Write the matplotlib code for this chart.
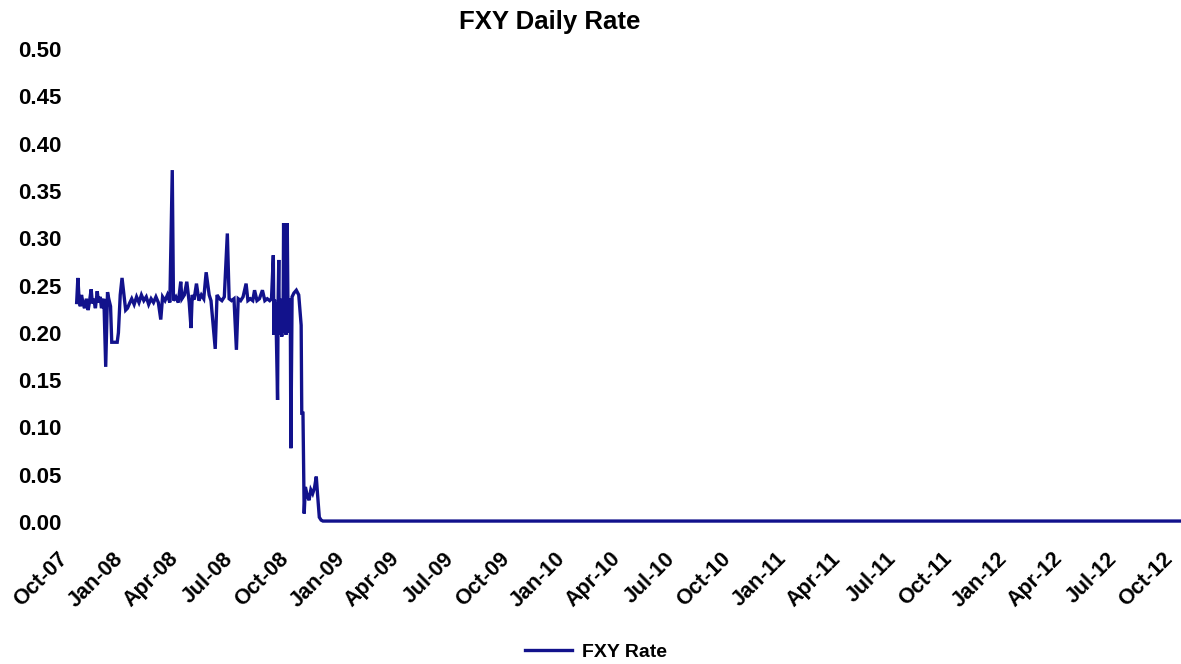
import matplotlib
matplotlib.use("Agg")
import matplotlib.pyplot as plt
import matplotlib.transforms as mtransforms
import pandas as pd

title = "FXY Daily Rate"
series_name = "FXY Rate"

dates = [
    "2007-10-12", "2007-10-14", "2007-10-16", "2007-10-18", "2007-10-20", "2007-10-23",
    "2007-10-25", "2007-10-28", "2007-10-31", "2007-11-02", "2007-11-05", "2007-11-07",
    "2007-11-09", "2007-11-12", "2007-11-15", "2007-11-17", "2007-11-20", "2007-11-22",
    "2007-11-26", "2007-11-29", "2007-12-02", "2007-12-04", "2007-12-07", "2007-12-09",
    "2007-12-13", "2007-12-18", "2007-12-20", "2007-12-23", "2007-12-26", "2008-01-01",
    "2008-01-04", "2008-01-08", "2008-01-11", "2008-01-15", "2008-01-19", "2008-01-23",
    "2008-01-27", "2008-01-31", "2008-02-04", "2008-02-08", "2008-02-12", "2008-02-16",
    "2008-02-20", "2008-02-24", "2008-02-28", "2008-03-02", "2008-03-06", "2008-03-10",
    "2008-03-14", "2008-03-18", "2008-03-20", "2008-03-24", "2008-03-28", "2008-04-01",
    "2008-04-03", "2008-04-07", "2008-04-11", "2008-04-15", "2008-04-18", "2008-04-20",
    "2008-04-23", "2008-04-27", "2008-05-01", "2008-05-05", "2008-05-09", "2008-05-13",
    "2008-05-18", "2008-05-21", "2008-05-28", "2008-05-31", "2008-06-04", "2008-06-08",
    "2008-06-12", "2008-06-17", "2008-06-20", "2008-06-24", "2008-06-28", "2008-07-02",
    "2008-07-05", "2008-07-09", "2008-07-13", "2008-07-18", "2008-07-21", "2008-07-25",
    "2008-07-29", "2008-08-01", "2008-08-05", "2008-08-09", "2008-08-14", "2008-08-18",
    "2008-08-22", "2008-08-26", "2008-08-29", "2008-09-01", "2008-09-02", "2008-09-03",
    "2008-09-04", "2008-09-05", "2008-09-08", "2008-09-09", "2008-09-10", "2008-09-11",
    "2008-09-12", "2008-09-15", "2008-09-16", "2008-09-17", "2008-09-18", "2008-09-19",
    "2008-09-22", "2008-09-23", "2008-09-24", "2008-09-25", "2008-09-26", "2008-09-29",
    "2008-09-30", "2008-10-02", "2008-10-05", "2008-10-09", "2008-10-13", "2008-10-17",
    "2008-10-18", "2008-10-20", "2008-10-22", "2008-10-24", "2008-10-27", "2008-10-30",
    "2008-11-02", "2008-11-05", "2008-11-08", "2008-11-11", "2008-11-13", "2008-11-16",
    "2008-11-19", "2008-11-22", "2008-11-25", "2012-10-31",
]

rates = [
    0.232, 0.258, 0.236, 0.228, 0.240, 0.230,
    0.226, 0.236, 0.224, 0.232, 0.246, 0.231,
    0.236, 0.226, 0.244, 0.232, 0.238, 0.226,
    0.236, 0.164, 0.243, 0.236, 0.228, 0.190,
    0.190, 0.190, 0.200, 0.240, 0.258, 0.224,
    0.226, 0.232, 0.236, 0.230, 0.238, 0.232,
    0.240, 0.234, 0.238, 0.230, 0.236, 0.232,
    0.238, 0.232, 0.214, 0.238, 0.234, 0.240,
    0.232, 0.372, 0.234, 0.238, 0.232, 0.254,
    0.236, 0.240, 0.254, 0.232, 0.205, 0.240,
    0.235, 0.252, 0.234, 0.240, 0.236, 0.264,
    0.240, 0.234, 0.183, 0.240, 0.236, 0.234,
    0.238, 0.305, 0.236, 0.234, 0.236, 0.182,
    0.236, 0.234, 0.238, 0.252, 0.234, 0.236,
    0.234, 0.245, 0.234, 0.236, 0.245, 0.234,
    0.236, 0.234, 0.236, 0.282, 0.198, 0.235,
    0.200, 0.232, 0.129, 0.236, 0.277, 0.198,
    0.236, 0.196, 0.234, 0.200, 0.316, 0.236,
    0.198, 0.232, 0.316, 0.240, 0.200, 0.236,
    0.078, 0.238, 0.242, 0.245, 0.240, 0.208,
    0.115, 0.115, 0.009, 0.037, 0.028, 0.023,
    0.034, 0.030, 0.036, 0.048, 0.030, 0.005,
    0.002, 0.001, 0.001, 0.001,
]

tick_labels = ["Oct-07", "Jan-08", "Apr-08", "Jul-08", "Oct-08", "Jan-09", "Apr-09",
               "Jul-09", "Oct-09", "Jan-10", "Apr-10", "Jul-10", "Oct-10", "Jan-11",
               "Apr-11", "Jul-11", "Oct-11", "Jan-12", "Apr-12", "Jul-12", "Oct-12"]
tick_dates = pd.date_range("2007-10-01", "2012-10-01", freq="QS-OCT")
y_ticks = [0.0, 0.05, 0.10, 0.15, 0.20, 0.25, 0.30, 0.35, 0.40, 0.45, 0.50]

plt.rcParams["font.family"] = ["Liberation Sans", "DejaVu Sans"]

fig = plt.figure(figsize=(11.81, 6.64), dpi=100)
ax = fig.add_axes([70 / 1181, 1 - 522 / 664, 1 - 70 / 1181, (522 - 49) / 664])

x = pd.to_datetime(dates)
ax.plot(x, rates, color="#12128c", linewidth=2.4, label=series_name, clip_on=False,
        solid_joinstyle="miter")

ax.set_xlim(pd.Timestamp("2007-10-01"), pd.Timestamp("2012-10-10"))
ax.set_ylim(0, 0.5)
ax.set_yticks(y_ticks)
ax.set_yticklabels([f"{v:.2f}" for v in y_ticks], fontsize=16, fontweight="bold")
ax.set_xticks(tick_dates)
ax.set_xticklabels(tick_labels, rotation=45, ha="right", va="top",
                   rotation_mode="anchor", fontsize=15.5, fontweight="bold")
ax.tick_params(axis="x", length=0, pad=19)
ax.tick_params(axis="y", length=0, pad=6)
offset = mtransforms.ScaledTranslation(-13 / 100, 0, fig.dpi_scale_trans)
for lbl in ax.get_xticklabels():
    lbl.set_transform(lbl.get_transform() + offset)
for s in ax.spines.values():
    s.set_visible(False)

fig.text(550 / 1181, 1 - 22 / 664, title, ha="center", va="center",
         fontsize=18.5, fontweight="bold")

fig.legend(loc="center", bbox_to_anchor=(596 / 1181, 1 - 652 / 664), frameon=False,
           prop={"size": 14, "weight": "bold"}, handlelength=2.4, handletextpad=0.5)

fig.savefig("out.png", dpi=100)
